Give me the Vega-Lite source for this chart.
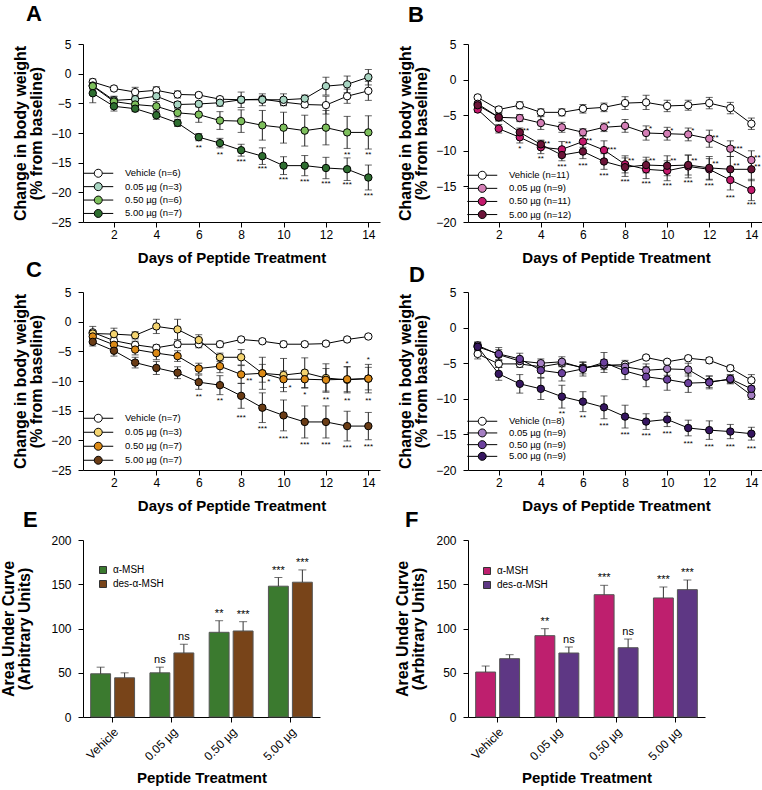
{
"$schema":"https://vega.github.io/schema/vega-lite/v6.json",
"padding":{"left":0,"top":2,"right":0,"bottom":0},
"bounds":"flush",
"columns":2,
"spacing":{"row":70,"column":88},
"resolve":{"scale":{"fill":"independent","xOffset":"independent"},"legend":{"fill":"independent"}},
"config":{
 "font":"Liberation Sans",
 "view":{"stroke":null},
 "axis":{"domainColor":"#000","tickColor":"#000","labelColor":"#000","titleColor":"#000","labelFontSize":12,"titleFontWeight":"bold","grid":false,"tickSize":5,"labelFont":"Liberation Sans","titleFont":"Liberation Sans"},
 "axisX":{"titleFontSize":15,"labelPadding":2,"titlePadding":10},
 "axisY":{"titleFontSize":16,"labelPadding":7,"titlePadding":6,"titleLineHeight":16},
 "title":{"fontSize":22,"fontWeight":"bold","anchor":"start","frame":"group","color":"#000","font":"Liberation Sans","baseline":"alphabetic"},
 "legend":{"labelFont":"Liberation Sans","labelColor":"#000","padding":0},
 "text":{"font":"Liberation Sans","color":"#000"}
},
"datasets":{
"A":[
{"d":1,"g":"Vehicle (n=6)","m":-1.4,"e":0.5},{"d":2,"g":"Vehicle (n=6)","m":-2.5,"e":0.4},{"d":3,"g":"Vehicle (n=6)","m":-3.1,"e":0.8},{"d":4,"g":"Vehicle (n=6)","m":-2.8,"e":0.6},{"d":5,"g":"Vehicle (n=6)","m":-3.5,"e":0.6},{"d":6,"g":"Vehicle (n=6)","m":-3.6,"e":0.4},{"d":7,"g":"Vehicle (n=6)","m":-4.3,"e":0.4},{"d":8,"g":"Vehicle (n=6)","m":-4.4,"e":0.5},{"d":9,"g":"Vehicle (n=6)","m":-4.3,"e":0.5},{"d":10,"g":"Vehicle (n=6)","m":-4.8,"e":0.5},{"d":11,"g":"Vehicle (n=6)","m":-5.2,"e":0.5},{"d":12,"g":"Vehicle (n=6)","m":-5.3,"e":1.5},{"d":13,"g":"Vehicle (n=6)","m":-3.8,"e":1.2},{"d":14,"g":"Vehicle (n=6)","m":-2.9,"e":1.6},
{"d":1,"g":"0.05 µg (n=3)","m":-2.0,"e":0.5},{"d":2,"g":"0.05 µg (n=3)","m":-4.5,"e":0.6},{"d":3,"g":"0.05 µg (n=3)","m":-4.3,"e":0.6},{"d":4,"g":"0.05 µg (n=3)","m":-3.8,"e":0.5},{"d":5,"g":"0.05 µg (n=3)","m":-5.2,"e":0.5},{"d":6,"g":"0.05 µg (n=3)","m":-5.1,"e":0.4},{"d":7,"g":"0.05 µg (n=3)","m":-4.9,"e":0.6},{"d":8,"g":"0.05 µg (n=3)","m":-4.4,"e":1.3},{"d":9,"g":"0.05 µg (n=3)","m":-4.4,"e":1.0},{"d":10,"g":"0.05 µg (n=3)","m":-4.4,"e":1.0},{"d":11,"g":"0.05 µg (n=3)","m":-4.2,"e":0.6},{"d":12,"g":"0.05 µg (n=3)","m":-2.1,"e":1.5},{"d":13,"g":"0.05 µg (n=3)","m":-1.8,"e":1.4},{"d":14,"g":"0.05 µg (n=3)","m":-0.6,"e":1.3},
{"d":1,"g":"0.50 µg (n=6)","m":-2.1,"e":0.6},{"d":2,"g":"0.50 µg (n=6)","m":-4.7,"e":0.9},{"d":3,"g":"0.50 µg (n=6)","m":-5.2,"e":0.7},{"d":4,"g":"0.50 µg (n=6)","m":-5.5,"e":0.8},{"d":5,"g":"0.50 µg (n=6)","m":-6.6,"e":0.7},{"d":6,"g":"0.50 µg (n=6)","m":-6.9,"e":1.3},{"d":7,"g":"0.50 µg (n=6)","m":-7.9,"e":1.5},{"d":8,"g":"0.50 µg (n=6)","m":-8.0,"e":1.9},{"d":9,"g":"0.50 µg (n=6)","m":-8.7,"e":2.5},{"d":10,"g":"0.50 µg (n=6)","m":-9.1,"e":2.6},{"d":11,"g":"0.50 µg (n=6)","m":-9.6,"e":2.6},{"d":12,"g":"0.50 µg (n=6)","m":-9.1,"e":2.9},{"d":13,"g":"0.50 µg (n=6)","m":-9.9,"e":2.7},{"d":14,"g":"0.50 µg (n=6)","m":-9.9,"e":2.8},
{"d":1,"g":"5.00 µg (n=7)","m":-3.3,"e":1.6},{"d":2,"g":"5.00 µg (n=7)","m":-5.5,"e":0.8},{"d":3,"g":"5.00 µg (n=7)","m":-5.9,"e":0.5},{"d":4,"g":"5.00 µg (n=7)","m":-7.0,"e":0.7},{"d":5,"g":"5.00 µg (n=7)","m":-8.3,"e":0.6},{"d":6,"g":"5.00 µg (n=7)","m":-10.7,"e":0.6},{"d":7,"g":"5.00 µg (n=7)","m":-11.7,"e":0.8},{"d":8,"g":"5.00 µg (n=7)","m":-12.9,"e":1.0},{"d":9,"g":"5.00 µg (n=7)","m":-13.9,"e":1.4},{"d":10,"g":"5.00 µg (n=7)","m":-15.5,"e":1.5},{"d":11,"g":"5.00 µg (n=7)","m":-15.5,"e":1.7},{"d":12,"g":"5.00 µg (n=7)","m":-15.9,"e":1.8},{"d":13,"g":"5.00 µg (n=7)","m":-16.1,"e":1.9},{"d":14,"g":"5.00 µg (n=7)","m":-17.5,"e":2.1}
],
"As":[{"d":6,"m":-12.2,"s":"**"},{"d":7,"m":-13.3,"s":"**"},{"d":8,"m":-14.6,"s":"***"},{"d":9,"m":-15.8,"s":"***"},{"d":10,"m":-17.5,"s":"***"},{"d":11,"m":-17.9,"s":"***"},{"d":12,"m":-18.3,"s":"***"},{"d":13,"m":-18.5,"s":"***"},{"d":14,"m":-20.2,"s":"***"},{"d":13,"m":-13.3,"s":"**"},{"d":14,"m":-13.3,"s":"**"}],
"B":[
{"d":1,"g":"Vehicle (n=11)","m":-2.5,"e":0.3},{"d":2,"g":"Vehicle (n=11)","m":-4.2,"e":0.4},{"d":3,"g":"Vehicle (n=11)","m":-3.6,"e":0.5},{"d":4,"g":"Vehicle (n=11)","m":-4.6,"e":0.5},{"d":5,"g":"Vehicle (n=11)","m":-4.6,"e":0.5},{"d":6,"g":"Vehicle (n=11)","m":-4.1,"e":0.6},{"d":7,"g":"Vehicle (n=11)","m":-3.9,"e":0.6},{"d":8,"g":"Vehicle (n=11)","m":-3.3,"e":0.9},{"d":9,"g":"Vehicle (n=11)","m":-3.2,"e":1.0},{"d":10,"g":"Vehicle (n=11)","m":-3.7,"e":0.8},{"d":11,"g":"Vehicle (n=11)","m":-3.6,"e":0.7},{"d":12,"g":"Vehicle (n=11)","m":-3.3,"e":0.8},{"d":13,"g":"Vehicle (n=11)","m":-4.0,"e":0.8},{"d":14,"g":"Vehicle (n=11)","m":-6.2,"e":0.8},
{"d":1,"g":"0.05 µg (n=9)","m":-3.4,"e":0.3},{"d":2,"g":"0.05 µg (n=9)","m":-5.3,"e":0.5},{"d":3,"g":"0.05 µg (n=9)","m":-5.4,"e":0.5},{"d":4,"g":"0.05 µg (n=9)","m":-6.1,"e":0.9},{"d":5,"g":"0.05 µg (n=9)","m":-6.7,"e":0.7},{"d":6,"g":"0.05 µg (n=9)","m":-7.4,"e":0.5},{"d":7,"g":"0.05 µg (n=9)","m":-6.7,"e":0.6},{"d":8,"g":"0.05 µg (n=9)","m":-6.5,"e":0.9},{"d":9,"g":"0.05 µg (n=9)","m":-7.5,"e":1.0},{"d":10,"g":"0.05 µg (n=9)","m":-7.6,"e":0.9},{"d":11,"g":"0.05 µg (n=9)","m":-7.7,"e":0.9},{"d":12,"g":"0.05 µg (n=9)","m":-8.3,"e":1.2},{"d":13,"g":"0.05 µg (n=9)","m":-9.7,"e":1.1},{"d":14,"g":"0.05 µg (n=9)","m":-11.3,"e":1.3},
{"d":1,"g":"0.50 µg (n=11)","m":-4.2,"e":0.4},{"d":2,"g":"0.50 µg (n=11)","m":-6.9,"e":0.6},{"d":3,"g":"0.50 µg (n=11)","m":-8.1,"e":0.8},{"d":4,"g":"0.50 µg (n=11)","m":-9.5,"e":0.9},{"d":5,"g":"0.50 µg (n=11)","m":-9.8,"e":1.1},{"d":6,"g":"0.50 µg (n=11)","m":-8.7,"e":0.8},{"d":7,"g":"0.50 µg (n=11)","m":-9.9,"e":1.3},{"d":8,"g":"0.50 µg (n=11)","m":-11.9,"e":1.2},{"d":9,"g":"0.50 µg (n=11)","m":-12.6,"e":1.3},{"d":10,"g":"0.50 µg (n=11)","m":-12.8,"e":1.4},{"d":11,"g":"0.50 µg (n=11)","m":-12.2,"e":1.6},{"d":12,"g":"0.50 µg (n=11)","m":-12.6,"e":1.5},{"d":13,"g":"0.50 µg (n=11)","m":-14.1,"e":1.4},{"d":14,"g":"0.50 µg (n=11)","m":-15.5,"e":1.5},
{"d":1,"g":"5.00 µg (n=12)","m":-3.6,"e":0.4},{"d":2,"g":"5.00 µg (n=12)","m":-5.3,"e":0.5},{"d":3,"g":"5.00 µg (n=12)","m":-7.4,"e":0.6},{"d":4,"g":"5.00 µg (n=12)","m":-9.1,"e":0.6},{"d":5,"g":"5.00 µg (n=12)","m":-10.6,"e":0.8},{"d":6,"g":"5.00 µg (n=12)","m":-10.1,"e":1.0},{"d":7,"g":"5.00 µg (n=12)","m":-11.5,"e":1.1},{"d":8,"g":"5.00 µg (n=12)","m":-12.3,"e":1.3},{"d":9,"g":"5.00 µg (n=12)","m":-12.0,"e":1.1},{"d":10,"g":"5.00 µg (n=12)","m":-12.1,"e":1.4},{"d":11,"g":"5.00 µg (n=12)","m":-12.0,"e":1.4},{"d":12,"g":"5.00 µg (n=12)","m":-12.4,"e":1.6},{"d":13,"g":"5.00 µg (n=12)","m":-12.6,"e":1.8},{"d":14,"g":"5.00 µg (n=12)","m":-12.6,"e":1.6}
],
"Bs":[{"d":3,"m":-9.4,"s":"*"},{"d":4,"m":-10.9,"s":"**"},{"d":5,"m":-12.0,"s":"***"},{"d":6,"m":-11.8,"s":"***"},{"d":7,"m":-13.3,"s":"***"},{"d":8,"m":-14.1,"s":"***"},{"d":9,"m":-14.4,"s":"***"},{"d":10,"m":-14.7,"s":"***"},{"d":11,"m":-14.3,"s":"***"},{"d":12,"m":-14.7,"s":"***"},{"d":13,"m":-16.3,"s":"***"},{"d":14,"m":-17.3,"s":"***"}],
"Br":[{"d":7,"m":-5.9,"s":"*"},{"d":9,"m":-6.7,"s":"*"},{"d":10,"m":-6.9,"s":"*"},{"d":11,"m":-7.0,"s":"*"},{"d":12,"m":-7.9,"s":"**"},{"d":13,"m":-9.4,"s":"***"},{"d":14,"m":-10.7,"s":"**"},{"d":3,"m":-7.0,"s":"**"},{"d":4,"m":-8.8,"s":"**"},{"d":5,"m":-8.8,"s":"**"},{"d":6,"m":-8.4,"s":"**"},{"d":7,"m":-9.6,"s":"***"},{"d":8,"m":-11.1,"s":"**"},{"d":9,"m":-11.2,"s":"**"},{"d":10,"m":-11.2,"s":"**"},{"d":11,"m":-11.1,"s":"**"},{"d":12,"m":-11.6,"s":"**"},{"d":13,"m":-11.9,"s":"**"},{"d":14,"m":-12.0,"s":"**"}],
"C":[
{"d":1,"g":"Vehicle (n=7)","m":-1.8,"e":1.0},{"d":2,"g":"Vehicle (n=7)","m":-3.2,"e":0.5},{"d":3,"g":"Vehicle (n=7)","m":-3.9,"e":0.6},{"d":4,"g":"Vehicle (n=7)","m":-4.4,"e":0.5},{"d":5,"g":"Vehicle (n=7)","m":-3.8,"e":0.5},{"d":6,"g":"Vehicle (n=7)","m":-3.8,"e":0.6},{"d":7,"g":"Vehicle (n=7)","m":-3.8,"e":0.5},{"d":8,"g":"Vehicle (n=7)","m":-3.0,"e":0.4},{"d":9,"g":"Vehicle (n=7)","m":-3.3,"e":0.4},{"d":10,"g":"Vehicle (n=7)","m":-3.8,"e":0.5},{"d":11,"g":"Vehicle (n=7)","m":-3.8,"e":0.4},{"d":12,"g":"Vehicle (n=7)","m":-3.7,"e":0.4},{"d":13,"g":"Vehicle (n=7)","m":-3.0,"e":0.4},{"d":14,"g":"Vehicle (n=7)","m":-2.5,"e":0.3},
{"d":1,"g":"0.05 µg (n=3)","m":-2.0,"e":0.5},{"d":2,"g":"0.05 µg (n=3)","m":-2.1,"e":1.0},{"d":3,"g":"0.05 µg (n=3)","m":-2.3,"e":0.6},{"d":4,"g":"0.05 µg (n=3)","m":-0.8,"e":1.2},{"d":5,"g":"0.05 µg (n=3)","m":-1.3,"e":1.7},{"d":6,"g":"0.05 µg (n=3)","m":-3.1,"e":0.9},{"d":7,"g":"0.05 µg (n=3)","m":-6.0,"e":0.7},{"d":8,"g":"0.05 µg (n=3)","m":-6.0,"e":1.3},{"d":9,"g":"0.05 µg (n=3)","m":-8.7,"e":2.7},{"d":10,"g":"0.05 µg (n=3)","m":-9.0,"e":2.8},{"d":11,"g":"0.05 µg (n=3)","m":-8.6,"e":2.5},{"d":12,"g":"0.05 µg (n=3)","m":-9.5,"e":2.4},{"d":13,"g":"0.05 µg (n=3)","m":-9.8,"e":2.2},{"d":14,"g":"0.05 µg (n=3)","m":-9.6,"e":2.4},
{"d":1,"g":"0.50 µg (n=7)","m":-2.5,"e":0.6},{"d":2,"g":"0.50 µg (n=7)","m":-3.9,"e":0.7},{"d":3,"g":"0.50 µg (n=7)","m":-4.7,"e":0.9},{"d":4,"g":"0.50 µg (n=7)","m":-5.3,"e":1.1},{"d":5,"g":"0.50 µg (n=7)","m":-5.8,"e":0.9},{"d":6,"g":"0.50 µg (n=7)","m":-7.9,"e":0.9},{"d":7,"g":"0.50 µg (n=7)","m":-7.5,"e":1.1},{"d":8,"g":"0.50 µg (n=7)","m":-8.9,"e":1.5},{"d":9,"g":"0.50 µg (n=7)","m":-8.7,"e":1.5},{"d":10,"g":"0.50 µg (n=7)","m":-9.7,"e":1.4},{"d":11,"g":"0.50 µg (n=7)","m":-9.7,"e":1.5},{"d":12,"g":"0.50 µg (n=7)","m":-9.8,"e":1.9},{"d":13,"g":"0.50 µg (n=7)","m":-9.7,"e":2.1},{"d":14,"g":"0.50 µg (n=7)","m":-9.6,"e":1.9},
{"d":1,"g":"5.00 µg (n=7)","m":-3.4,"e":0.7},{"d":2,"g":"5.00 µg (n=7)","m":-4.9,"e":0.9},{"d":3,"g":"5.00 µg (n=7)","m":-6.9,"e":0.9},{"d":4,"g":"5.00 µg (n=7)","m":-7.8,"e":1.1},{"d":5,"g":"5.00 µg (n=7)","m":-8.6,"e":1.0},{"d":6,"g":"5.00 µg (n=7)","m":-10.2,"e":1.2},{"d":7,"g":"5.00 µg (n=7)","m":-10.7,"e":1.6},{"d":8,"g":"5.00 µg (n=7)","m":-12.5,"e":2.1},{"d":9,"g":"5.00 µg (n=7)","m":-14.5,"e":2.5},{"d":10,"g":"5.00 µg (n=7)","m":-15.8,"e":2.6},{"d":11,"g":"5.00 µg (n=7)","m":-16.9,"e":2.7},{"d":12,"g":"5.00 µg (n=7)","m":-16.9,"e":2.7},{"d":13,"g":"5.00 µg (n=7)","m":-17.6,"e":2.5},{"d":14,"g":"5.00 µg (n=7)","m":-17.6,"e":2.3}
],
"Cs":[{"d":6,"m":-12.3,"s":"**"},{"d":7,"m":-13.1,"s":"**"},{"d":8,"m":-15.9,"s":"***"},{"d":9,"m":-17.8,"s":"***"},{"d":10,"m":-19.4,"s":"***"},{"d":11,"m":-20.5,"s":"***"},{"d":12,"m":-20.5,"s":"***"},{"d":13,"m":-21.0,"s":"***"},{"d":14,"m":-20.8,"s":"***"},{"d":11,"m":-12.1,"s":"*"},{"d":12,"m":-12.8,"s":"**"},{"d":13,"m":-13.1,"s":"**"},{"d":14,"m":-13.1,"s":"**"},{"d":13,"m":-6.8,"s":"*"},{"d":14,"m":-6.2,"s":"*"}],
"Cr":[{"d":8,"m":-9.7,"s":"**"},{"d":9,"m":-9.8,"s":"*"},{"d":10,"m":-10.8,"s":"*"}],
"D":[
{"d":1,"g":"Vehicle (n=8)","m":-3.7,"e":0.7},{"d":2,"g":"Vehicle (n=8)","m":-5.1,"e":0.5},{"d":3,"g":"Vehicle (n=8)","m":-5.1,"e":0.5},{"d":4,"g":"Vehicle (n=8)","m":-5.5,"e":0.4},{"d":5,"g":"Vehicle (n=8)","m":-5.0,"e":0.4},{"d":6,"g":"Vehicle (n=8)","m":-5.6,"e":0.4},{"d":7,"g":"Vehicle (n=8)","m":-5.3,"e":0.3},{"d":8,"g":"Vehicle (n=8)","m":-5.2,"e":0.3},{"d":9,"g":"Vehicle (n=8)","m":-4.2,"e":0.3},{"d":10,"g":"Vehicle (n=8)","m":-4.8,"e":0.3},{"d":11,"g":"Vehicle (n=8)","m":-4.3,"e":0.3},{"d":12,"g":"Vehicle (n=8)","m":-4.6,"e":0.4},{"d":13,"g":"Vehicle (n=8)","m":-5.7,"e":0.4},{"d":14,"g":"Vehicle (n=8)","m":-7.4,"e":0.8},
{"d":1,"g":"0.05 µg (n=9)","m":-2.5,"e":0.5},{"d":2,"g":"0.05 µg (n=9)","m":-3.8,"e":0.7},{"d":3,"g":"0.05 µg (n=9)","m":-4.7,"e":0.5},{"d":4,"g":"0.05 µg (n=9)","m":-5.0,"e":0.6},{"d":5,"g":"0.05 µg (n=9)","m":-4.8,"e":0.7},{"d":6,"g":"0.05 µg (n=9)","m":-5.7,"e":0.8},{"d":7,"g":"0.05 µg (n=9)","m":-5.2,"e":0.7},{"d":8,"g":"0.05 µg (n=9)","m":-5.5,"e":0.9},{"d":9,"g":"0.05 µg (n=9)","m":-6.0,"e":0.9},{"d":10,"g":"0.05 µg (n=9)","m":-5.8,"e":0.9},{"d":11,"g":"0.05 µg (n=9)","m":-5.9,"e":0.9},{"d":12,"g":"0.05 µg (n=9)","m":-7.6,"e":0.8},{"d":13,"g":"0.05 µg (n=9)","m":-7.3,"e":0.6},{"d":14,"g":"0.05 µg (n=9)","m":-9.5,"e":0.6},
{"d":1,"g":"0.50 µg (n=9)","m":-2.7,"e":0.6},{"d":2,"g":"0.50 µg (n=9)","m":-3.7,"e":0.9},{"d":3,"g":"0.50 µg (n=9)","m":-4.4,"e":0.8},{"d":4,"g":"0.50 µg (n=9)","m":-6.0,"e":1.0},{"d":5,"g":"0.50 µg (n=9)","m":-6.4,"e":1.1},{"d":6,"g":"0.50 µg (n=9)","m":-5.8,"e":1.0},{"d":7,"g":"0.50 µg (n=9)","m":-4.9,"e":1.4},{"d":8,"g":"0.50 µg (n=9)","m":-6.1,"e":1.2},{"d":9,"g":"0.50 µg (n=9)","m":-6.9,"e":1.4},{"d":10,"g":"0.50 µg (n=9)","m":-7.3,"e":1.5},{"d":11,"g":"0.50 µg (n=9)","m":-7.8,"e":1.3},{"d":12,"g":"0.50 µg (n=9)","m":-7.7,"e":0.9},{"d":13,"g":"0.50 µg (n=9)","m":-7.2,"e":0.6},{"d":14,"g":"0.50 µg (n=9)","m":-8.6,"e":0.8},
{"d":1,"g":"5.00 µg (n=9)","m":-2.7,"e":0.5},{"d":2,"g":"5.00 µg (n=9)","m":-6.5,"e":0.9},{"d":3,"g":"5.00 µg (n=9)","m":-7.9,"e":1.3},{"d":4,"g":"5.00 µg (n=9)","m":-8.6,"e":1.5},{"d":5,"g":"5.00 µg (n=9)","m":-9.7,"e":1.6},{"d":6,"g":"5.00 µg (n=9)","m":-10.4,"e":1.4},{"d":7,"g":"5.00 µg (n=9)","m":-11.2,"e":1.6},{"d":8,"g":"5.00 µg (n=9)","m":-12.5,"e":1.6},{"d":9,"g":"5.00 µg (n=9)","m":-13.2,"e":1.1},{"d":10,"g":"5.00 µg (n=9)","m":-12.9,"e":1.0},{"d":11,"g":"5.00 µg (n=9)","m":-14.1,"e":1.1},{"d":12,"g":"5.00 µg (n=9)","m":-14.4,"e":1.3},{"d":13,"g":"5.00 µg (n=9)","m":-14.6,"e":1.0},{"d":14,"g":"5.00 µg (n=9)","m":-14.9,"e":0.9}
],
"Ds":[{"d":5,"m":-11.9,"s":"**"},{"d":6,"m":-12.4,"s":"**"},{"d":7,"m":-13.6,"s":"***"},{"d":8,"m":-14.8,"s":"***"},{"d":9,"m":-15.0,"s":"***"},{"d":10,"m":-14.7,"s":"***"},{"d":11,"m":-16.0,"s":"***"},{"d":12,"m":-16.5,"s":"***"},{"d":13,"m":-16.5,"s":"***"},{"d":14,"m":-16.8,"s":"***"}],
"E":[
{"t":"Vehicle","p":"α-MSH","v":48.8,"u":56.3,"s":""},{"t":"Vehicle","p":"des-α-MSH","v":44.3,"u":49.9,"s":""},
{"t":"0.05 µg","p":"α-MSH","v":49.9,"u":56.3,"s":"ns"},{"t":"0.05 µg","p":"des-α-MSH","v":72.4,"u":82.2,"s":"ns"},
{"t":"0.50 µg","p":"α-MSH","v":95.7,"u":108.8,"s":"**"},{"t":"0.50 µg","p":"des-α-MSH","v":97.2,"u":107.7,"s":"***"},
{"t":"5.00 µg","p":"α-MSH","v":147.8,"u":157.6,"s":"***"},{"t":"5.00 µg","p":"des-α-MSH","v":152.3,"u":166.2,"s":"***"}
],
"F":[
{"t":"Vehicle","p":"α-MSH","v":50.8,"u":57.6,"s":""},{"t":"Vehicle","p":"des-α-MSH","v":65.9,"u":70.4,"s":""},
{"t":"0.05 µg","p":"α-MSH","v":91.9,"u":99.8,"s":"**"},{"t":"0.05 µg","p":"des-α-MSH","v":72.3,"u":79.1,"s":"ns"},
{"t":"0.50 µg","p":"α-MSH","v":138.2,"u":148.8,"s":"***"},{"t":"0.50 µg","p":"des-α-MSH","v":78.3,"u":88.1,"s":"ns"},
{"t":"5.00 µg","p":"α-MSH","v":134.5,"u":146.9,"s":"***"},{"t":"5.00 µg","p":"des-α-MSH","v":143.9,"u":154.8,"s":"***"}
]
},
"concat":[
  {"width":297,"height":178,"title":{"text":"A","dx":-57,"offset":12.5},"data":{"name":"A"},
   "encoding":{"x":{"field":"d","type":"quantitative","scale":{"domain":[0.54,14.55],"nice":false,"zero":false},"axis":{"values":[2,4,6,8,10,12,14],"title":"Days of Peptide Treatment"}},
     "y":{"field":"m","type":"quantitative","scale":{"domain":[-25,5],"nice":false,"zero":false},"axis":{"values":[-25,-20,-15,-10,-5,0,5],"title":["Change in body weight","(% from baseline)"]}}},
   "layer":[
    {"mark":{"type":"line","color":"#000","strokeWidth":1},"encoding":{"detail":{"field":"g"}}},
    {"mark":{"type":"errorbar","ticks":{"size":7},"color":"#222","thickness":1},"encoding":{"yError":{"field":"e"}}},
    {"mark":{"type":"point","shape":"circle","filled":true,"size":55,"stroke":"#000","strokeWidth":1,"opacity":1},
     "encoding":{"fill":{"field":"g","type":"nominal","scale":{"domain":["Vehicle (n=6)","0.05 µg (n=3)","0.50 µg (n=6)","5.00 µg (n=7)"],"range":["#ffffff","#a8d5c2","#7dbf5c","#2e6e30"]},
       "legend":{"title":null,"orient":"none","legendX":4,"legendY":124.5,"symbolType":"M-3.75,0L-1,0M1,0L3.75,0M-1,0A1,1,0,1,1,1,0A1,1,0,1,1,-1,0Z","symbolSize":64,"symbolStrokeColor":"#000","symbolStrokeWidth":1,"symbolOffset":6.5,"labelOffset":22,"labelFontSize":9.5,"rowPadding":0.4}}}},
    {"data":{"name":"As"},"mark":{"type":"text","fontSize":8,"baseline":"middle","dy":2},"encoding":{"text":{"field":"s"}}},
    {"data":{"values":[{}]},"mark":{"type":"text","text":"α","font":"Liberation Serif","fontSize":22,"align":"left","baseline":"alphabetic"},"encoding":{"x":{"datum":0.87},"y":{"datum":1.8}}},
    {"data":{"values":[{}]},"mark":{"type":"text","text":"-MSH (males)","fontSize":20,"fontWeight":"bold","align":"left","baseline":"alphabetic","dx":12},"encoding":{"x":{"datum":0.87},"y":{"datum":1.8}}}
   ]},
  {"width":296,"height":178,"title":{"text":"B","dx":-60,"offset":11.5},"data":{"name":"B"},
   "encoding":{"x":{"field":"d","type":"quantitative","scale":{"domain":[0.54,14.6],"nice":false,"zero":false},"axis":{"values":[2,4,6,8,10,12,14],"title":"Days of Peptide Treatment"}},
     "y":{"field":"m","type":"quantitative","scale":{"domain":[-20,5],"nice":false,"zero":false},"axis":{"values":[-20,-15,-10,-5,0,5],"title":["Change in body weight","(% from baseline)"]}}},
   "layer":[
    {"mark":{"type":"line","color":"#000","strokeWidth":1},"encoding":{"detail":{"field":"g"}}},
    {"mark":{"type":"errorbar","ticks":{"size":7},"color":"#222","thickness":1},"encoding":{"yError":{"field":"e"}}},
    {"mark":{"type":"point","shape":"circle","filled":true,"size":55,"stroke":"#000","strokeWidth":1,"opacity":1},
     "encoding":{"fill":{"field":"g","type":"nominal","scale":{"domain":["Vehicle (n=11)","0.05 µg (n=9)","0.50 µg (n=11)","5.00 µg (n=12)"],"range":["#ffffff","#d47fb6","#c4196c","#6b1438"]},
       "legend":{"title":null,"orient":"none","legendX":3,"legendY":126.5,"symbolType":"M-3.75,0L-1,0M1,0L3.75,0M-1,0A1,1,0,1,1,1,0A1,1,0,1,1,-1,0Z","symbolSize":64,"symbolStrokeColor":"#000","symbolStrokeWidth":1,"symbolOffset":6.5,"labelOffset":22,"labelFontSize":9.5,"rowPadding":0.1}}}},
    {"data":{"name":"Bs"},"mark":{"type":"text","fontSize":8,"baseline":"middle","dy":2},"encoding":{"text":{"field":"s"}}},
    {"data":{"name":"Br"},"mark":{"type":"text","fontSize":8,"baseline":"middle","align":"left","dx":3,"dy":2},"encoding":{"text":{"field":"s"}}},
    {"data":{"values":[{}]},"mark":{"type":"text","text":"α","font":"Liberation Serif","fontSize":22,"align":"left","baseline":"alphabetic"},"encoding":{"x":{"datum":0.78},"y":{"datum":1.07}}},
    {"data":{"values":[{}]},"mark":{"type":"text","text":"-MSH (females)","fontSize":20,"fontWeight":"bold","align":"left","baseline":"alphabetic","dx":12},"encoding":{"x":{"datum":0.78},"y":{"datum":1.07}}}
   ]},
  {"width":297,"height":178,"title":{"text":"C","dx":-57,"offset":4},"data":{"name":"C"},
   "encoding":{"x":{"field":"d","type":"quantitative","scale":{"domain":[0.54,14.55],"nice":false,"zero":false},"axis":{"values":[2,4,6,8,10,12,14],"title":"Days of Peptide Treatment"}},
     "y":{"field":"m","type":"quantitative","scale":{"domain":[-25,5],"nice":false,"zero":false},"axis":{"values":[-25,-20,-15,-10,-5,0,5],"title":["Change in body weight","(% from baseline)"]}}},
   "layer":[
    {"mark":{"type":"line","color":"#000","strokeWidth":1},"encoding":{"detail":{"field":"g"}}},
    {"mark":{"type":"errorbar","ticks":{"size":7},"color":"#222","thickness":1},"encoding":{"yError":{"field":"e"}}},
    {"mark":{"type":"point","shape":"circle","filled":true,"size":55,"stroke":"#000","strokeWidth":1,"opacity":1},
     "encoding":{"fill":{"field":"g","type":"nominal","scale":{"domain":["Vehicle (n=7)","0.05 µg (n=3)","0.50 µg (n=7)","5.00 µg (n=7)"],"range":["#ffffff","#f4d470","#dc8a16","#6a3c15"]},
       "legend":{"title":null,"orient":"none","legendX":4,"legendY":121.5,"symbolType":"M-3.75,0L-1,0M1,0L3.75,0M-1,0A1,1,0,1,1,1,0A1,1,0,1,1,-1,0Z","symbolSize":64,"symbolStrokeColor":"#000","symbolStrokeWidth":1,"symbolOffset":6.5,"labelOffset":22,"labelFontSize":9.5,"rowPadding":1}}}},
    {"data":{"name":"Cs"},"mark":{"type":"text","fontSize":8,"baseline":"middle","dy":2},"encoding":{"text":{"field":"s"}}},
    {"data":{"name":"Cr"},"mark":{"type":"text","fontSize":8,"baseline":"middle","align":"left","dx":5,"dy":2},"encoding":{"text":{"field":"s"}}},
    {"data":{"values":[{}]},"mark":{"type":"text","text":"des","fontSize":20,"fontWeight":"bold","fontStyle":"italic","align":"left","baseline":"alphabetic"},"encoding":{"x":{"datum":1.06},"y":{"datum":2.3}}},
    {"data":{"values":[{}]},"mark":{"type":"text","text":"-","fontSize":20,"fontWeight":"bold","align":"left","baseline":"alphabetic","dx":34},"encoding":{"x":{"datum":1.06},"y":{"datum":2.3}}},
    {"data":{"values":[{}]},"mark":{"type":"text","text":"α","font":"Liberation Serif","fontSize":22,"align":"left","baseline":"alphabetic","dx":41},"encoding":{"x":{"datum":1.06},"y":{"datum":2.3}}},
    {"data":{"values":[{}]},"mark":{"type":"text","text":"-MSH (males)","fontSize":20,"fontWeight":"bold","align":"left","baseline":"alphabetic","dx":53},"encoding":{"x":{"datum":1.06},"y":{"datum":2.3}}}
   ]},
  {"width":296,"height":178,"title":{"text":"D","dx":-59,"offset":-1},"data":{"name":"D"},
   "encoding":{"x":{"field":"d","type":"quantitative","scale":{"domain":[0.54,14.6],"nice":false,"zero":false},"axis":{"values":[2,4,6,8,10,12,14],"title":"Days of Peptide Treatment"}},
     "y":{"field":"m","type":"quantitative","scale":{"domain":[-20,5],"nice":false,"zero":false},"axis":{"values":[-20,-15,-10,-5,0,5],"title":["Change in body weight","(% from baseline)"]}}},
   "layer":[
    {"mark":{"type":"line","color":"#000","strokeWidth":1},"encoding":{"detail":{"field":"g"}}},
    {"mark":{"type":"errorbar","ticks":{"size":7},"color":"#222","thickness":1},"encoding":{"yError":{"field":"e"}}},
    {"mark":{"type":"point","shape":"circle","filled":true,"size":55,"stroke":"#000","strokeWidth":1,"opacity":1},
     "encoding":{"fill":{"field":"g","type":"nominal","scale":{"domain":["Vehicle (n=8)","0.05 µg (n=9)","0.50 µg (n=9)","5.00 µg (n=9)"],"range":["#ffffff","#a47ec2","#6b409d","#361660"]},
       "legend":{"title":null,"orient":"none","legendX":3,"legendY":124.5,"symbolType":"M-3.75,0L-1,0M1,0L3.75,0M-1,0A1,1,0,1,1,1,0A1,1,0,1,1,-1,0Z","symbolSize":64,"symbolStrokeColor":"#000","symbolStrokeWidth":1,"symbolOffset":6.5,"labelOffset":22,"labelFontSize":9.5,"rowPadding":-1.3}}}},
    {"data":{"name":"Ds"},"mark":{"type":"text","fontSize":8,"baseline":"middle","dy":2},"encoding":{"text":{"field":"s"}}},
    {"data":{"values":[{}]},"mark":{"type":"text","text":"des","fontSize":20,"fontWeight":"bold","fontStyle":"italic","align":"left","baseline":"alphabetic"},"encoding":{"x":{"datum":1.01},"y":{"datum":1.07}}},
    {"data":{"values":[{}]},"mark":{"type":"text","text":"-","fontSize":20,"fontWeight":"bold","align":"left","baseline":"alphabetic","dx":34},"encoding":{"x":{"datum":1.01},"y":{"datum":1.07}}},
    {"data":{"values":[{}]},"mark":{"type":"text","text":"α","font":"Liberation Serif","fontSize":22,"align":"left","baseline":"alphabetic","dx":41},"encoding":{"x":{"datum":1.01},"y":{"datum":1.07}}},
    {"data":{"values":[{}]},"mark":{"type":"text","text":"-MSH (females)","fontSize":20,"fontWeight":"bold","align":"left","baseline":"alphabetic","dx":53},"encoding":{"x":{"datum":1.01},"y":{"datum":1.07}}}
   ]},
 {"width":237,"height":177,"title":{"text":"E","dx":-60,"offset":2.5},"data":{"name":"E"},
  "encoding":{"x":{"field":"t","type":"nominal","sort":["Vehicle","0.05 µg","0.50 µg","5.00 µg"],"scale":{"paddingInner":0,"paddingOuter":0},"axis":{"labelAngle":-45,"title":"Peptide Treatment","titlePadding":8,"labelPadding":4}},
    "xOffset":{"field":"p","type":"nominal","sort":["α-MSH","des-α-MSH"],"scale":{"paddingInner":0.17,"paddingOuter":0.32}}},
  "layer":[
   {"mark":{"type":"bar","stroke":"#555","strokeWidth":1},"encoding":{"y":{"field":"v","type":"quantitative","scale":{"domain":[0,200],"nice":false},"axis":{"values":[0,50,100,150,200],"titlePadding":18,"title":["Area Under Curve","(Arbitrary Units)"]}},
     "fill":{"field":"p","type":"nominal","scale":{"domain":["α-MSH","des-α-MSH"],"range":["#3b7a2f","#784419"]},"legend":{"title":null,"orient":"none","legendX":15,"legendY":25,"symbolType":"square","symbolSize":49,"symbolStrokeColor":"#333","symbolStrokeWidth":1,"labelFontSize":10,"rowPadding":2,"labelOffset":5}}}},
   {"mark":{"type":"rule","color":"#333","strokeWidth":1},"encoding":{"y":{"field":"v","type":"quantitative","scale":{"domain":[0,200],"nice":false},"axis":{"values":[0,50,100,150,200],"titlePadding":18,"title":["Area Under Curve","(Arbitrary Units)"]}},"y2":{"field":"u"}}},
   {"mark":{"type":"tick","color":"#333","thickness":1,"size":8},"encoding":{"y":{"field":"u","type":"quantitative","scale":{"domain":[0,200],"nice":false},"axis":{"values":[0,50,100,150,200],"titlePadding":18,"title":["Area Under Curve","(Arbitrary Units)"]}}}},
   {"mark":{"type":"text","fontSize":11,"baseline":"bottom","dy":-2},"encoding":{"y":{"field":"u","type":"quantitative","scale":{"domain":[0,200],"nice":false},"axis":{"values":[0,50,100,150,200],"titlePadding":18,"title":["Area Under Curve","(Arbitrary Units)"]}},"text":{"field":"s"}}}
  ]},
 {"width":237,"height":177,"title":{"text":"F","dx":-63,"offset":2.5},"data":{"name":"F"},
  "encoding":{"x":{"field":"t","type":"nominal","sort":["Vehicle","0.05 µg","0.50 µg","5.00 µg"],"scale":{"paddingInner":0,"paddingOuter":0},"axis":{"labelAngle":-45,"title":"Peptide Treatment","titlePadding":8,"labelPadding":4}},
    "xOffset":{"field":"p","type":"nominal","sort":["α-MSH","des-α-MSH"],"scale":{"paddingInner":0.17,"paddingOuter":0.32}}},
  "layer":[
   {"mark":{"type":"bar","stroke":"#555","strokeWidth":1},"encoding":{"y":{"field":"v","type":"quantitative","scale":{"domain":[0,200],"nice":false},"axis":{"values":[0,50,100,150,200],"titlePadding":9,"title":["Area Under Curve","(Arbitrary Units)"]}},
     "fill":{"field":"p","type":"nominal","scale":{"domain":["α-MSH","des-α-MSH"],"range":["#be1f6e","#5e3784"]},"legend":{"title":null,"orient":"none","legendX":14,"legendY":26,"symbolType":"square","symbolSize":49,"symbolStrokeColor":"#333","symbolStrokeWidth":1,"labelFontSize":10,"rowPadding":2,"labelOffset":5}}}},
   {"mark":{"type":"rule","color":"#333","strokeWidth":1},"encoding":{"y":{"field":"v","type":"quantitative","scale":{"domain":[0,200],"nice":false},"axis":{"values":[0,50,100,150,200],"titlePadding":9,"title":["Area Under Curve","(Arbitrary Units)"]}},"y2":{"field":"u"}}},
   {"mark":{"type":"tick","color":"#333","thickness":1,"size":8},"encoding":{"y":{"field":"u","type":"quantitative","scale":{"domain":[0,200],"nice":false},"axis":{"values":[0,50,100,150,200],"titlePadding":9,"title":["Area Under Curve","(Arbitrary Units)"]}}}},
   {"mark":{"type":"text","fontSize":11,"baseline":"bottom","dy":-2},"encoding":{"y":{"field":"u","type":"quantitative","scale":{"domain":[0,200],"nice":false},"axis":{"values":[0,50,100,150,200],"titlePadding":9,"title":["Area Under Curve","(Arbitrary Units)"]}},"text":{"field":"s"}}}
  ]}
]
}
